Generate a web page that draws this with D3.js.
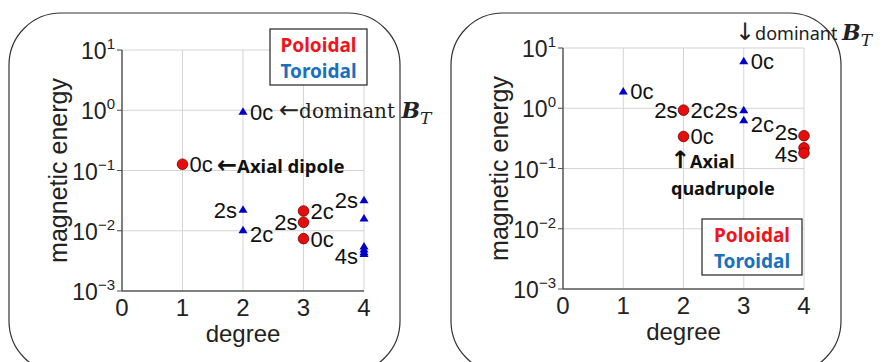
<!DOCTYPE html>
<html>
<head>
<meta charset="utf-8">
<script src="https://cdn.jsdelivr.net/npm/d3@7"></script>
<style>
  body { margin: 0; background: #fff; }
  svg { display: block; }
</style>
</head>
<body>
<svg id="chart" width="882" height="362"></svg>
<script>
// axis ticks shared by both panels
var degreeTicks = [0, 1, 2, 3, 4];
var energyExponents = [-3, -2, -1, 0, 1];

// left panel: [degree, energy]
var leftPoloidal = [[1, 0.127], [3, 0.0213], [3, 0.0138], [3, 0.0074]];
var leftToroidal = [[2, 0.94], [2, 0.0224], [2, 0.0102], [4, 0.032], [4, 0.016],
                    [4, 0.0055], [4, 0.0049], [4, 0.0044], [4, 0.0041]];
// [text, degree, energy, side]  side: r/l, then b = below, t = above
var leftLabels = [["0c", 2, 0.94, "r"], ["0c", 1, 0.127, "r"], ["2s", 2, 0.0224, "l"],
                  ["2c", 2, 0.0102, "rb"], ["2s", 3, 0.0138, "l"], ["2c", 3, 0.0213, "r"],
                  ["2s", 4, 0.032, "l"], ["0c", 3, 0.0074, "r"], ["4s", 4, 0.0044, "lb"]];

// right panel
var rightPoloidal = [[2, 0.93], [2, 0.34], [4, 0.35], [4, 0.22], [4, 0.18]];
var rightToroidal = [[1, 1.9], [3, 6.0], [3, 0.93], [3, 0.63]];
var rightLabels = [["0c", 1, 1.9, "r"], ["0c", 3, 6.0, "r"], ["2s", 2, 0.93, "l"],
                   ["2c", 2, 0.93, "r"], ["2s", 3, 0.93, "l"], ["2c", 3, 0.63, "rb"],
                   ["2s", 4, 0.35, "lt"], ["0c", 2, 0.34, "r"], ["4s", 4, 0.2, "lb"]];

var legendNames = ["Poloidal", "Toroidal"];
var legendColors = ["#f0141c", "#1a70bd"];

var svg = d3.select("#chart");
var sans = "'Liberation Sans', Arial, sans-serif";
var bold = "'Noto Sans', sans-serif";
var arrowFont = "'DejaVu Sans', sans-serif";

function labelDy(side) {
  if (side.charAt(1) === "b") return 12;
  if (side.charAt(1) === "t") return 4;
  return 8;
}

function drawPanel(cfg) {
  var g = svg.append("g");
  var x = d3.scaleLinear().domain([0, 4]).range([cfg.x0, cfg.x1]);
  var y = d3.scaleLog().domain([1e-3, 10]).range([cfg.y0, cfg.y1]);

  // rounded frame
  g.append("rect")
      .attr("x", cfg.frame[0]).attr("y", cfg.frame[1])
      .attr("width", cfg.frame[2]).attr("height", cfg.frame[3])
      .attr("rx", 52).attr("ry", 52)
      .attr("fill", "none").attr("stroke", "#333").attr("stroke-width", 1.2);

  // grid
  g.selectAll(".gx").data(degreeTicks.slice(1)).enter().append("line")
      .attr("x1", function(d) { return x(d); }).attr("x2", function(d) { return x(d); })
      .attr("y1", y(10)).attr("y2", y(1e-3))
      .attr("stroke", "#d4d4d4").attr("stroke-width", 1);
  g.selectAll(".gy").data(energyExponents.slice(1)).enter().append("line")
      .attr("x1", x(0) - 5).attr("x2", x(4))
      .attr("y1", function(d) { return y(Math.pow(10, d)); })
      .attr("y2", function(d) { return y(Math.pow(10, d)); })
      .attr("stroke", "#d4d4d4").attr("stroke-width", 1);
  g.selectAll(".ty").data(energyExponents).enter().append("line")
      .attr("x1", x(0) - 5).attr("x2", x(0))
      .attr("y1", function(d) { return y(Math.pow(10, d)); })
      .attr("y2", function(d) { return y(Math.pow(10, d)); })
      .attr("stroke", "#555");

  // axes
  g.append("line").attr("x1", x(0)).attr("x2", x(0)).attr("y1", y(10)).attr("y2", y(1e-3))
      .attr("stroke", "#555").attr("stroke-width", 1.5);
  g.append("line").attr("x1", x(0)).attr("x2", x(4)).attr("y1", y(1e-3)).attr("y2", y(1e-3))
      .attr("stroke", "#555").attr("stroke-width", 1.5);

  // tick labels
  g.selectAll(".lx").data(degreeTicks).enter().append("text")
      .attr("x", function(d) { return x(d); }).attr("y", y(1e-3) + 25)
      .attr("text-anchor", "middle")
      .style("font", "24px " + sans).attr("fill", "#222")
      .text(function(d) { return d; });
  var ly = g.selectAll(".ly").data(energyExponents).enter().append("text")
      .attr("x", x(0) - 7).attr("y", function(d) { return y(Math.pow(10, d)) + 9; })
      .attr("text-anchor", "end")
      .style("font", "23px " + sans).attr("fill", "#222");
  ly.append("tspan").text("10");
  ly.append("tspan").attr("dy", -10).style("font-size", "15px")
      .text(function(d) { return String(d).replace("-", "\u2212"); });

  // axis titles
  g.append("text")
      .attr("transform", "translate(" + (x(0) - 55) + "," + ((y(10) + y(1e-3)) / 2) + ") rotate(-90)")
      .attr("text-anchor", "middle")
      .style("font", "25px " + sans).attr("fill", "#222")
      .text("magnetic energy");
  g.append("text")
      .attr("x", (x(0) + x(4)) / 2).attr("y", y(1e-3) + 51)
      .attr("text-anchor", "middle")
      .style("font", "24px " + sans).attr("fill", "#222")
      .text("degree");

  // markers
  g.selectAll(".pol").data(cfg.poloidal).enter().append("circle")
      .attr("cx", function(d) { return x(d[0]); })
      .attr("cy", function(d) { return y(d[1]); })
      .attr("r", 5.3)
      .attr("fill", "#e60d0d").attr("stroke", "#7a0000").attr("stroke-width", 0.8);
  g.selectAll(".tor").data(cfg.toroidal).enter().append("path")
      .attr("transform", function(d) { return "translate(" + x(d[0]) + "," + y(d[1]) + ")"; })
      .attr("d", "M0,-4.5L4.5,3L-4.5,3Z")
      .attr("fill", "#0000c8");

  // point labels
  g.selectAll(".pl").data(cfg.labels).enter().append("text")
      .attr("x", function(d) { return x(d[1]) + (d[3].charAt(0) === "r" ? 7 : -6); })
      .attr("y", function(d) { return y(d[2]) + labelDy(d[3]); })
      .attr("text-anchor", function(d) { return d[3].charAt(0) === "r" ? "start" : "end"; })
      .style("font", "22px " + sans).attr("fill", "#111")
      .text(function(d) { return d[0]; });

  // legend
  var lg = g.append("g").attr("transform", "translate(" + cfg.legend[0] + "," + cfg.legend[1] + ")");
  lg.append("rect").attr("width", cfg.legend[2]).attr("height", 56)
      .attr("fill", "#fff").attr("stroke", "#222").attr("stroke-width", 1.2);
  lg.selectAll("text").data(legendNames).enter().append("text")
      .attr("x", cfg.legend[2] / 2).attr("y", function(d, i) { return 23 + i * 26; })
      .attr("text-anchor", "middle")
      .style("font", "bold 19px " + bold)
      .attr("fill", function(d, i) { return legendColors[i]; })
      .text(function(d) { return d; });

  return { g: g, x: x, y: y };
}

function bT(sel, size) {
  sel.append("tspan").style("font", "italic bold " + size + "px 'DejaVu Serif', serif").text("B");
  sel.append("tspan").attr("dy", 6).style("font", "italic " + (size - 5) + "px 'DejaVu Serif', serif").text("T");
}

var left = drawPanel({
  x0: 122, x1: 364, y0: 291, y1: 50,
  frame: [9, 13, 391, 360],
  poloidal: leftPoloidal, toroidal: leftToroidal, labels: leftLabels,
  legend: [270, 29, 97]
});

var right = drawPanel({
  x0: 563, x1: 804, y0: 289, y1: 48,
  frame: [451, 13, 390, 360],
  poloidal: rightPoloidal, toroidal: rightToroidal, labels: rightLabels,
  legend: [702, 219, 100]
});

// annotations, left
var a1 = left.g.append("text").attr("x", 279).attr("y", 118)
    .style("font", "20px 'DejaVu Serif', serif").attr("fill", "#222");
a1.append("tspan").style("font", "24px " + arrowFont).text("\u2190");
a1.append("tspan").text("dominant ");
bT(a1, 22);
var a1b = left.g.append("text").attr("x", 217).attr("y", 173)
    .style("font", "bold 18.5px " + bold).attr("fill", "#111");
a1b.append("tspan").style("font", "bold 24px " + arrowFont).text("\u2190");
a1b.append("tspan").text("Axial dipole");

// annotations, right
var a2 = right.g.append("text").attr("x", 735).attr("y", 40)
    .style("font", "18px 'Noto Sans', sans-serif").attr("fill", "#222");
a2.append("tspan").style("font", "24px " + arrowFont).text("\u2193");
a2.append("tspan").text("dominant ");
bT(a2, 22);
var a2b = right.g.append("text").attr("x", 670).attr("y", 168)
    .style("font", "bold 18px " + bold).attr("fill", "#111");
a2b.append("tspan").style("font", "bold 24px " + arrowFont).text("\u2191");
a2b.append("tspan").text("Axial");
right.g.append("text").attr("x", 671).attr("y", 195)
    .style("font", "bold 18px " + bold).attr("fill", "#111")
    .text("quadrupole");
</script>
</body>
</html>
